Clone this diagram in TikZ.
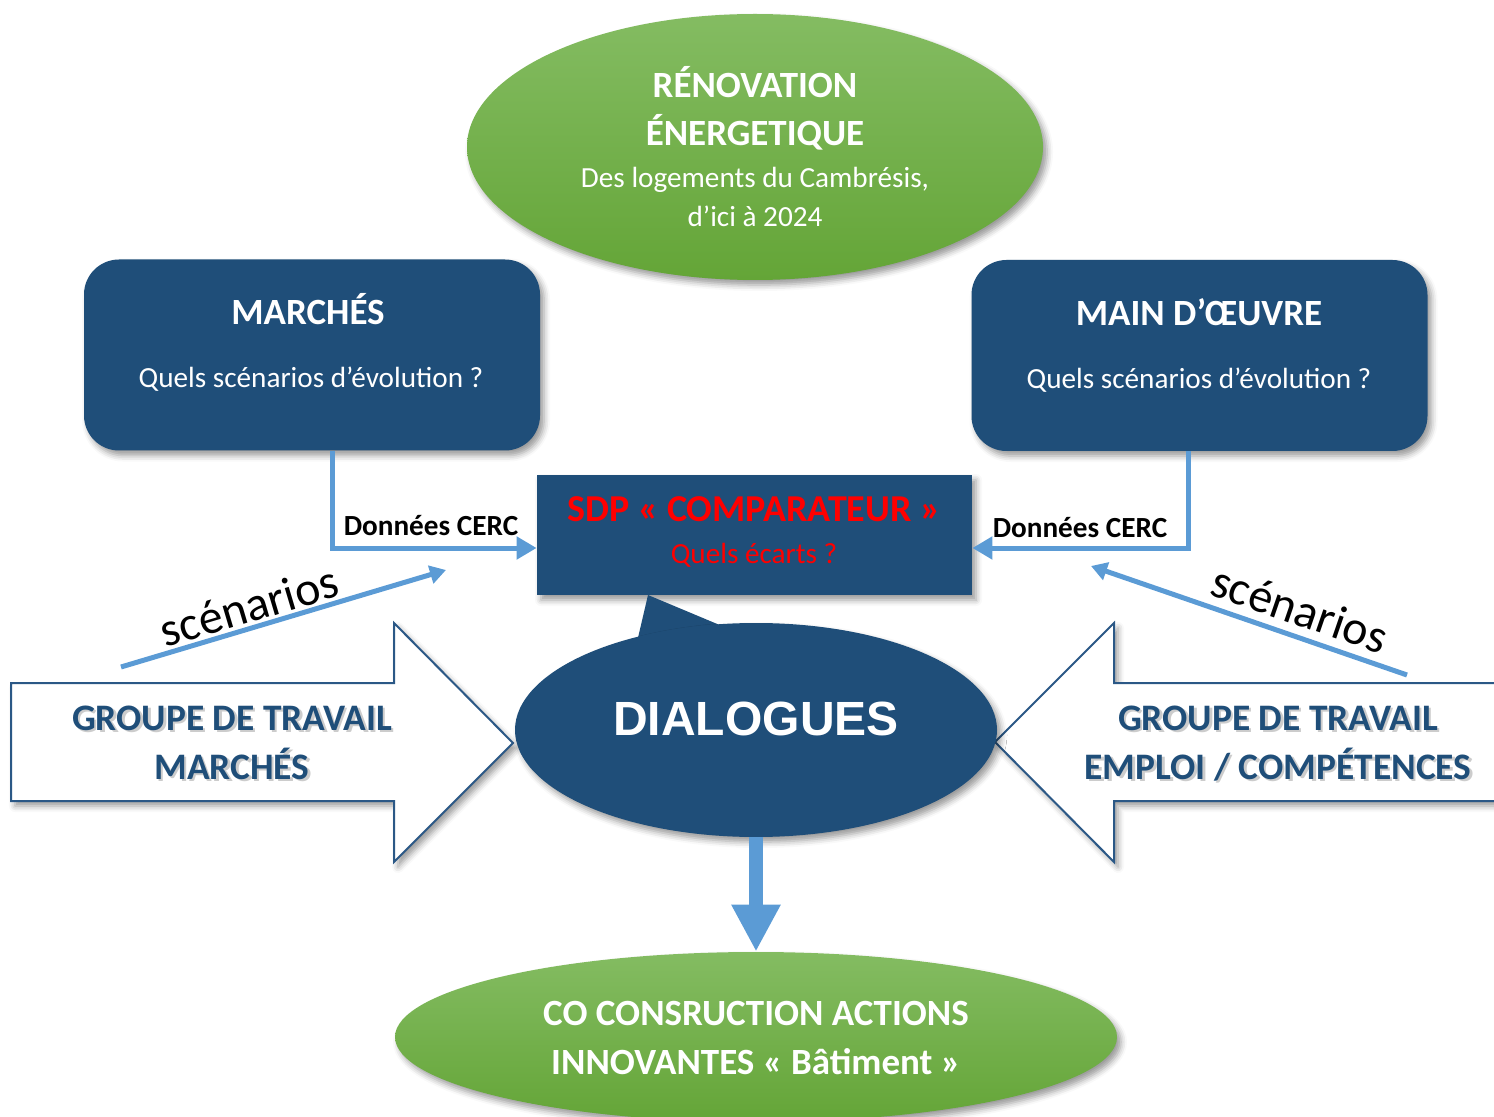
\documentclass[tikz,border=0pt]{standalone}
\usepackage{fontspec}
\setmainfont{Carlito}
\newfontfamily\arialfont{Liberation Sans}
\usetikzlibrary{shapes.geometric,arrows.meta,shadows.blur,calc}
\definecolor{dblue}{HTML}{1F4E79}
\definecolor{lblue}{HTML}{5B9BD5}
\definecolor{gtop}{RGB}{132,188,98}
\definecolor{gbot}{RGB}{100,165,55}
\definecolor{aline}{HTML}{2B5886}
\tikzset{
  sh/.style={blur shadow={shadow xshift=2pt,shadow yshift=-2.5pt,shadow blur radius=3pt,shadow opacity=40}},
  greenell/.style={ellipse, inner sep=0pt, top color=gtop, bottom color=gbot, draw=none, sh},
  bluebox/.style={rectangle, rounded corners=17.5pt, fill=dblue, inner sep=0pt, minimum width=228pt, minimum height=95.5pt, sh},
  bigt/.style={font=\bfseries\fontsize{18.5}{24.5}\selectfont, text=white, align=center},
  smallt/.style={font=\fontsize{14.6}{19.5}\selectfont, text=white, align=center},
  conn/.style={draw=lblue, line width=2.5pt, -{Triangle[length=10pt,width=11pt]}},
  scenarrow/.style={draw=lblue, line width=2.5pt, -{Triangle[length=8pt,width=9pt]}},
  blockarrow/.style={draw=aline, line width=1pt, fill=white, line join=miter, sh},
  grouptext/.style={font=\bfseries\fontsize{18.7}{24.5}\selectfont, text=dblue},
  groupshadow/.style={font=\bfseries\fontsize{18.7}{24.5}\selectfont, text=black, opacity=0.2},
  scen/.style={font=\fontsize{24}{28}\selectfont, text=black},
  cerc/.style={font=\bfseries\fontsize{14.6}{18}\selectfont, text=black},
}
\begin{document}
\begin{tikzpicture}[x=0.5pt,y=-0.5pt]
\useasboundingbox (0,0) rectangle (1494,1117);
\clip (0,0) rectangle (1494,1117);
% top ellipse
\node[greenell, minimum width=288pt, minimum height=133pt] (reno) at (755,147) {};
\node[bigt, anchor=base] (renoA) at (755,98) {RÉNOVATION};
\node[bigt, anchor=base] (renoB) at (755,146) {ÉNERGETIQUE};
\node[smallt, anchor=base] (renoC) at (755,188) {Des logements du Cambrésis,};
\node[smallt, anchor=base] (renoD) at (755,227) {d’ici à 2024};
% side boxes
\node[bluebox] (marches) at (312,355) {};
\node[bigt, anchor=base] (marchesT) at (308,325) {MARCHÉS};
\node[smallt, anchor=base] (marchesQ) at (311,388) {Quels scénarios d’évolution ?};
\node[bluebox] (mo) at (1199.5,355.5) {};
\node[bigt, anchor=base] (moT) at (1199,326) {MAIN D’ŒUVRE};
\node[smallt, anchor=base] (moQ) at (1199,389) {Quels scénarios d’évolution ?};
% block arrows
\draw[blockarrow] (11,683) -- (394,683) -- (394,623) -- (513,743) -- (394,862) -- (394,801) -- (11,801) -- cycle;
\draw[blockarrow] (1510,683) -- (1114,683) -- (1114,623) -- (995,742) -- (1114,862) -- (1114,801) -- (1510,801) -- cycle;
\node[groupshadow, anchor=base] (gLs1) at (234.5,732.5) {GROUPE DE TRAVAIL};
\node[grouptext, anchor=base] (gL1) at (232,730) {GROUPE DE TRAVAIL};
\node[groupshadow, anchor=base] (gLs2) at (234.5,781.5) {MARCHÉS};
\node[grouptext, anchor=base] (gL2) at (232,779) {MARCHÉS};
\node[groupshadow, anchor=base] (gRs1) at (1280.5,732.5) {GROUPE DE TRAVAIL};
\node[grouptext, anchor=base] (gR1) at (1278,730) {GROUPE DE TRAVAIL};
\node[groupshadow, anchor=base] (gRs2) at (1280.5,781.5) {EMPLOI / COMPÉTENCES};
\node[grouptext, anchor=base] (gR2) at (1278,779) {EMPLOI / COMPÉTENCES};
% SDP box
\node[rectangle, fill=dblue, inner sep=0pt, minimum width=217.5pt, minimum height=60pt, sh] (sdp) at (754.5,535) {};
\node[font=\bfseries\fontsize{19}{24}\selectfont, text=red, anchor=base] (sdpT) at (754,522) {SDP « COMPARATEUR »};
\node[font=\fontsize{14.6}{18}\selectfont, text=red, anchor=base] (sdpQ) at (754,563) {Quels écarts ?};
% connectors to SDP
\draw[conn] ([xshift=10pt]marches.south) |- ([yshift=-6.5pt]sdp.west);
\draw[conn] ([xshift=-5.75pt]mo.south) |- ([yshift=-6.5pt]sdp.east);
\node[cerc, anchor=base] (cercL) at (431,535) {Données CERC};
\node[cerc, anchor=base] (cercR) at (1080,538) {Données CERC};
% scenarios arrows
\coordinate (sL0) at (121,667);
\coordinate (sL1) at (446,570);
\draw[scenarrow] (sL0) -- (sL1);
\node[scen, rotate=16.6] (scL) at (249,606) {scénarios};
\coordinate (sR0) at (1407,675);
\coordinate (sR1) at (1091,566);
\draw[scenarrow] (sR0) -- (sR1);
\node[scen, rotate=-19] (scR) at (1300,609) {scénarios};
% DIALOGUES callout
\fill[dblue] (648,595) -- (637,642) -- (722,626) -- cycle;
\node[ellipse, fill=dblue, inner sep=0pt, minimum width=241pt, minimum height=107pt, sh] (dlg) at (756,730) {};
\node[font=\arialfont\bfseries\fontsize{24}{28}\selectfont, text=white, anchor=base] (dlgT) at (756,735) {DIALOGUES};
% bottom ellipse
\node[greenell, minimum width=361pt, minimum height=85pt] (bot) at (756,1037) {};
\node[bigt, anchor=base] (botA) at (756,1025) {CO CONSRUCTION ACTIONS};
\node[bigt, anchor=base] (botB) at (756,1074) {INNOVANTES « Bâtiment »};
% down arrow
\draw[draw=lblue, line width=7pt, -{Triangle[length=23.5pt,width=23pt]}] (dlg.south) -- (bot.north);
\end{tikzpicture}
\end{document}
